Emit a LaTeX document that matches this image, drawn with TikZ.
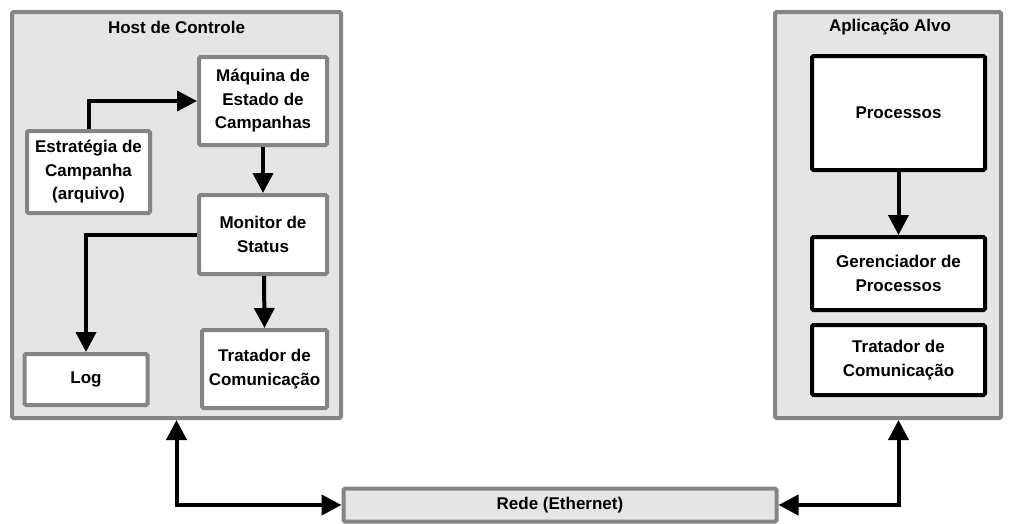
\documentclass[tikz,border=0pt]{standalone}
\usepackage{fontspec}
\setmainfont{Liberation Sans}
\usetikzlibrary{arrows.meta}
\definecolor{boxgray}{HTML}{858585}
\definecolor{panelfill}{HTML}{E5E5E5}
\tikzset{
  panel/.style={draw=boxgray, fill=panelfill, line width=4pt, rounded corners=1.5pt,
    minimum width=#1, inner sep=0pt},
  graybox/.style={draw=boxgray, fill=white, line width=4pt, rounded corners=1.5pt,
    align=center, inner sep=0pt, font=\fontsize{17}{23.5}\selectfont\bfseries},
  blackbox/.style={draw=black, fill=white, line width=4pt, rounded corners=1.5pt,
    align=center, inner sep=0pt, font=\fontsize{17}{23.5}\selectfont\bfseries},
  titletext/.style={font=\fontsize{17}{20}\selectfont\bfseries, inner sep=0pt},
  flow/.style={line width=4pt, -{Triangle[length=20pt,width=20pt]}},
  link/.style={line width=4pt, {Triangle[length=20pt,width=20pt]}-{Triangle[length=20pt,width=20pt]}},
}
\begin{document}
\begin{tikzpicture}[x=1pt, y=-1pt]
\useasboundingbox (0,0) rectangle (1013,523);

% containers
\node[panel=329pt, minimum height=406pt] (host) at (176.5,215) {};
\node[titletext] (hosttitle) at (176.5,27) {Host de Controle};
\node[panel=226pt, minimum height=406pt] (app) at (888,215) {};
\node[titletext] (apptitle) at (890,27) {Aplicação Alvo};

% control host components
\node[graybox, minimum width=128pt, minimum height=88pt] (maq) at (263,101)
  {Máquina de\\Estado de\\Campanhas};
\node[graybox, minimum width=123pt, minimum height=82pt] (estr) at (88.5,172)
  {Estratégia de\\Campanha\\(arquivo)};
\node[graybox, minimum width=128pt, minimum height=79pt] (mon) at (263,234.5)
  {Monitor de\\Status};
\node[graybox, minimum width=123pt, minimum height=51pt] (log) at (86,379.5) {Log};
\node[graybox, minimum width=125pt, minimum height=78pt] (tratl) at (264.5,369)
  {Tratador de\\Comunicação};

% target application components
\node[blackbox, minimum width=173pt, minimum height=114pt] (proc) at (898.5,113) {Processos};
\node[blackbox, minimum width=173pt, minimum height=73pt] (ger) at (898.5,273.5)
  {Gerenciador de\\Processos};
\node[blackbox, minimum width=173pt, minimum height=70pt] (tratr) at (898.5,360)
  {Tratador de\\Comunicação};

% network
\node[panel=433pt, minimum height=33pt, font=\fontsize{17}{20}\selectfont\bfseries] (rede)
  at (560,505) {Rede (Ethernet)};

% connectors
\draw[flow] (estr.north) |- (maq.west);
\draw[flow] (maq.south) -- (mon.north);
\draw[flow] (mon.west) -| (log.north);
\draw[flow] (mon.south -| tratl.north) ++(-0.5,0) -- (tratl.north);
\draw[flow] (proc.south) -- (ger.north);
\draw[link] (host.south) |- (rede.west);
\draw[link] (rede.east) -| (proc.south |- app.south);
\end{tikzpicture}
\end{document}
